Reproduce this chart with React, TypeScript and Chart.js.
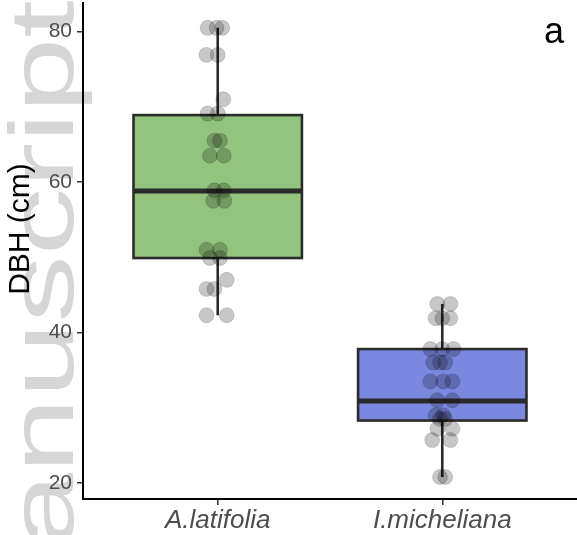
import React, { useEffect, useRef } from 'react';
import { Chart, registerables } from 'chart.js';

Chart.register(...registerables);

// ---- data ----
const categories = ['A.latifolia', 'I.micheliana'];
const yTicks = [20, 40, 60, 80];
const yTitle = 'DBH (cm)';
const panelLabel = 'a';

const boxMin = [42.3, 20.8];
const boxQ1 = [49.9, 28.3];
const boxMedian = [58.8, 30.9];
const boxQ3 = [68.9, 37.8];
const boxMax = [80.5, 43.8];

const boxFill = ['#93c47d', '#7b88e0'];

const latifoliaDBH = [
  80.5, 80.5, 80.5, 76.9, 76.9, 71.0, 69.1, 69.1, 65.5, 65.5, 63.5, 63.5, 58.9,
  58.9, 57.5, 57.5, 51.0, 51.0, 49.9, 49.9, 47.0, 45.8, 45.8, 42.3, 42.3,
];
const latifoliaJitter = [
  -0.045, -0.005, 0.02, -0.05, 0.0, 0.025, -0.045, 0.0, -0.015, 0.01, -0.035, 0.027, -0.015,
  0.027, -0.02, 0.03, -0.05, 0.01, -0.035, 0.01, 0.04, -0.05, -0.015, -0.05, 0.04,
];

const michelianaDBH = [
  43.8, 43.8, 41.9, 41.9, 41.9, 37.8, 37.8, 37.8, 36.0, 36.0, 36.0, 33.5, 33.5, 33.5,
  31.0, 31.0, 29.0, 29.0, 28.5, 28.5, 27.2, 27.2, 25.7, 25.7, 20.8, 20.8,
];
const michelianaJitter = [
  -0.022, 0.036, -0.03, 0.0, 0.036, -0.053, 0.0, 0.05, -0.04, -0.01, 0.013, -0.053, 0.004, 0.045,
  -0.022, 0.045, -0.03, 0.004, -0.01, 0.013, -0.022, 0.045, -0.045, 0.036, -0.01, 0.013,
];

const BOX_WIDTH = 0.75;
const FONT = '"Liberation Sans", Arial, sans-serif';

const watermarkPlugin = {
  id: 'watermark',
  beforeDraw(chart: any) {
    const ctx = chart.ctx;
    ctx.save();
    ctx.fillStyle = '#d6d6d6';
    ctx.font = `90px ${FONT}`;
    ctx.textBaseline = 'alphabetic';
    ctx.textAlign = 'left';
    ctx.translate(73, 548);
    ctx.rotate(-Math.PI / 2);
    ctx.scale(1.5, 1);
    ctx.fillText('anuscript', 0, 0);
    ctx.restore();
  },
};

const boxPlugin = {
  id: 'boxes',
  beforeDatasetsDraw(chart: any) {
    const { ctx, scales } = chart;
    const xs = scales.x;
    const ys = scales.y;
    ctx.save();
    for (let i = 0; i < categories.length; i++) {
      const cx = xs.getPixelForValue(i + 1);
      const left = xs.getPixelForValue(i + 1 - BOX_WIDTH / 2);
      const right = xs.getPixelForValue(i + 1 + BOX_WIDTH / 2);
      const yMin = ys.getPixelForValue(boxMin[i]);
      const yQ1 = ys.getPixelForValue(boxQ1[i]);
      const yMed = ys.getPixelForValue(boxMedian[i]);
      const yQ3 = ys.getPixelForValue(boxQ3[i]);
      const yMax = ys.getPixelForValue(boxMax[i]);
      ctx.strokeStyle = '#2b2b2b';
      ctx.lineWidth = 2.6;
      ctx.beginPath();
      ctx.moveTo(cx, yMax);
      ctx.lineTo(cx, yQ3);
      ctx.moveTo(cx, yQ1);
      ctx.lineTo(cx, yMin);
      ctx.stroke();
      ctx.fillStyle = boxFill[i];
      ctx.fillRect(left, yQ3, right - left, yQ1 - yQ3);
      ctx.strokeRect(left, yQ3, right - left, yQ1 - yQ3);
      ctx.lineWidth = 5;
      ctx.beginPath();
      ctx.moveTo(left, yMed);
      ctx.lineTo(right, yMed);
      ctx.stroke();
    }
    ctx.restore();
  },
};

const textPlugin = {
  id: 'texts',
  afterDraw(chart: any) {
    const ctx = chart.ctx;
    const area = chart.chartArea;
    ctx.save();
    ctx.fillStyle = '#000';
    ctx.font = `36px ${FONT}`;
    ctx.textAlign = 'center';
    ctx.textBaseline = 'alphabetic';
    ctx.fillText(panelLabel, area.right - 23, area.top + 40);
    ctx.font = `30px ${FONT}`;
    ctx.translate(29, (area.top + area.bottom) / 2 - 22);
    ctx.rotate(-Math.PI / 2);
    ctx.fillText(yTitle, 0, 0);
    ctx.restore();
  },
};

export default function App() {
  const ref = useRef<HTMLCanvasElement>(null);
  useEffect(() => {
    document.body.style.margin = '0';
    const canvas = ref.current!;
    const pointStyle = {
      pointRadius: 7.5,
      pointHoverRadius: 7.5,
      backgroundColor: 'rgba(0,0,0,0.22)',
      borderColor: 'rgba(0,0,0,0.14)',
      borderWidth: 1,
    };
    const chart = new Chart(canvas, {
      type: 'scatter',
      data: {
        datasets: [
          {
            label: categories[0],
            data: latifoliaDBH.map((v, i) => ({ x: 1 + latifoliaJitter[i], y: v })),
            ...pointStyle,
          },
          {
            label: categories[1],
            data: michelianaDBH.map((v, i) => ({ x: 2 + michelianaJitter[i], y: v })),
            ...pointStyle,
          },
        ],
      },
      options: {
        responsive: false,
        animation: false,
        layout: { autoPadding: false, padding: { top: 3, right: 0, left: 0, bottom: 0 } },
        plugins: { legend: { display: false }, tooltip: { enabled: false } },
        scales: {
          x: {
            type: 'linear',
            min: 0.4,
            max: 2.6,
            afterBuildTicks(scale: any) {
              scale.ticks = categories.map((_, i) => ({ value: i + 1 }));
            },
            afterFit(scale: any) {
              scale.height = 36;
              scale.paddingLeft = 0;
              scale.paddingRight = 0;
            },
            ticks: {
              callback: (v: any) => categories[Math.round(Number(v)) - 1] ?? '',
              color: '#4d4d4d',
              font: { family: FONT, size: 26, style: 'italic' },
              padding: 0,
              maxRotation: 0,
              autoSkip: false,
            },
            grid: { drawOnChartArea: false, drawTicks: true, tickLength: 6, color: '#333', lineWidth: 1.5 },
            border: { display: true, color: '#000', width: 2 },
          },
          y: {
            type: 'linear',
            min: 17.87,
            max: 83.8,
            afterBuildTicks(scale: any) {
              scale.ticks = yTicks.map((v) => ({ value: v }));
            },
            afterFit(scale: any) {
              scale.width = 83;
              scale.paddingTop = 0;
              scale.paddingBottom = 0;
            },
            ticks: {
              color: '#4d4d4d',
              font: { family: FONT, size: 21 },
              padding: 5,
            },
            title: { display: false },
            grid: { drawOnChartArea: false, drawTicks: true, tickLength: 6, color: '#333', lineWidth: 1.5 },
            border: { display: true, color: '#000', width: 2 },
          },
        },
      },
      plugins: [watermarkPlugin, boxPlugin, textPlugin],
    });
    return () => chart.destroy();
  }, []);
  return (
    <div style={{ width: 577, height: 535 }}>
      <canvas ref={ref} width={577} height={535} style={{ display: 'block' }} />
    </div>
  );
}
